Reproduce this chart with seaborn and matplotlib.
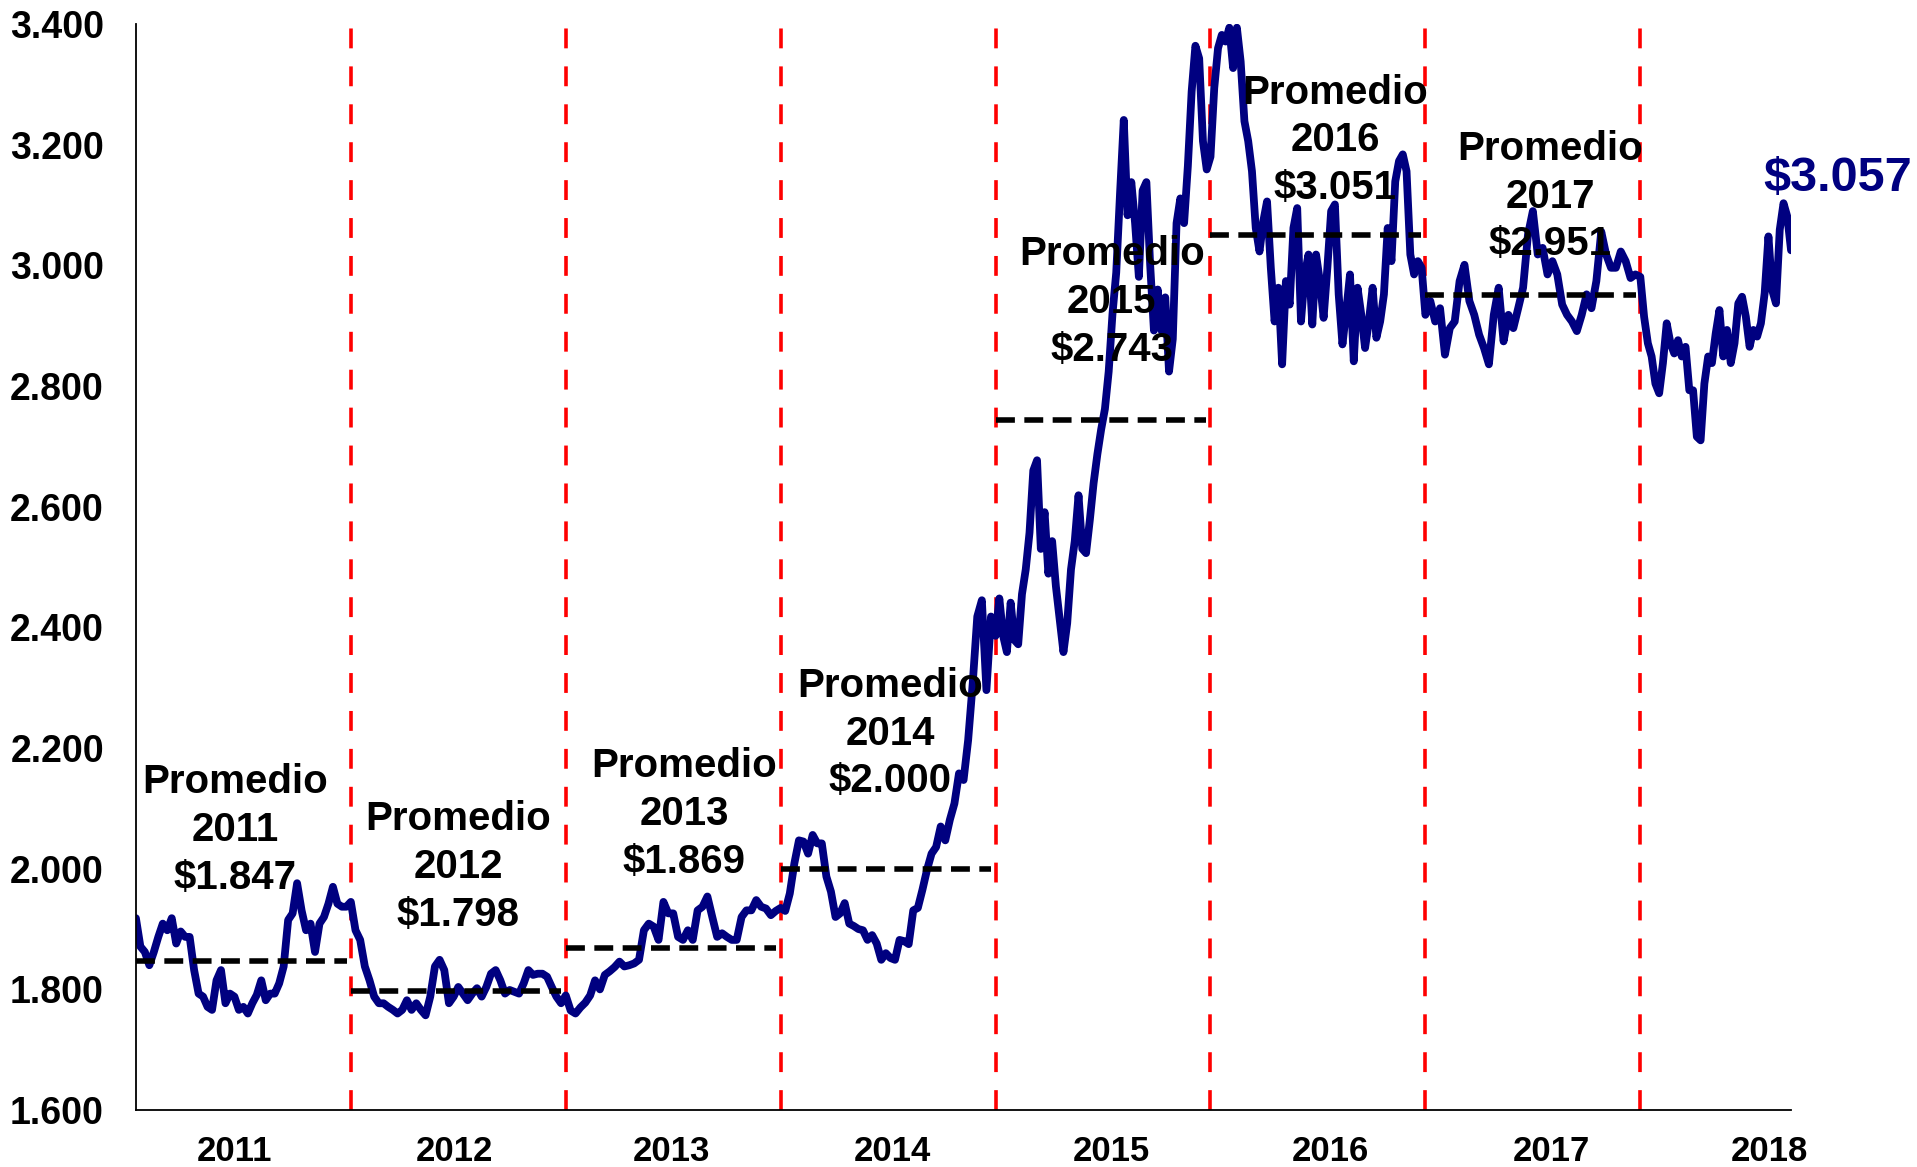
import numpy as np
import pandas as pd
import matplotlib
matplotlib.use("Agg")
import matplotlib.pyplot as plt
import seaborn as sns

# Tasa de cambio COP/USD, lecturas aproximadas del grafico (cada ~semana)
years = [2011, 2012, 2013, 2014, 2015, 2016, 2017, 2018]
trm_2011 = [1918, 1871, 1862, 1840, 1862, 1887, 1909, 1898, 1918, 1876, 1896, 1887, 1887, 1832, 1793, 1788,
            1771, 1766, 1815, 1832, 1777, 1793, 1788, 1766, 1771, 1760, 1777, 1791, 1815, 1782, 1793, 1793,
            1810, 1838, 1915, 1926, 1976, 1931, 1898, 1909, 1862, 1909, 1920, 1942, 1970, 1942, 1937, 1937]
trm_2012 = [1945, 1898, 1882, 1838, 1815, 1788, 1777, 1777, 1771, 1766, 1760, 1766, 1782, 1766, 1777, 1766,
            1757, 1788, 1838, 1849, 1832, 1777, 1788, 1804, 1793, 1782, 1793, 1802, 1788, 1804, 1826, 1832,
            1815, 1793, 1799, 1796, 1793, 1810, 1832, 1824, 1826, 1826, 1821, 1804, 1788, 1777]
trm_2013 = [1790, 1765, 1760, 1770, 1778, 1790, 1815, 1800, 1824, 1830, 1837, 1846, 1838, 1840, 1843, 1849,
            1898, 1909, 1904, 1882, 1945, 1926, 1926, 1887, 1882, 1898, 1882, 1931, 1937, 1954, 1920, 1887,
            1893, 1887, 1882, 1882, 1920, 1931, 1931, 1948, 1937, 1934, 1923, 1930]
trm_2014 = [1935, 1930, 1959, 2009, 2047, 2045, 2025, 2056, 2042, 2042, 1987, 1962, 1920, 1926, 1943, 1909,
            1905, 1900, 1898, 1882, 1890, 1876, 1849, 1860, 1852, 1849, 1882, 1880, 1875, 1931, 1935, 1965,
            1998, 2025, 2036, 2070, 2047, 2081, 2108, 2158, 2147, 2213, 2307, 2418, 2445, 2296, 2418]
trm_2015 = [2386, 2448, 2386, 2359, 2441, 2379, 2372, 2455, 2496, 2557, 2660, 2677, 2530, 2591, 2489, 2543,
            2468, 2414, 2359, 2407, 2496, 2543, 2619, 2530, 2523, 2578, 2639, 2687, 2728, 2762, 2824, 2919,
            2988, 3118, 3241, 3083, 3138, 3070, 2981, 3124, 3138, 3001, 2892, 2960, 2892, 2947, 2824, 2878,
            3070, 3111, 3070, 3165, 3288, 3364, 3343, 3206, 3159]
trm_2016 = [3180, 3294, 3360, 3382, 3371, 3394, 3327, 3394, 3338, 3239, 3206, 3156, 3062, 3023, 3073, 3106,
            2996, 2907, 2963, 2836, 2974, 2935, 3062, 3095, 2907, 2985, 3018, 2902, 3018, 2974, 2913, 2996,
            3090, 3101, 2952, 2869, 2924, 2985, 2841, 2963, 2918, 2863, 2907, 2963, 2880, 2907, 2952, 3062,
            3007, 3139, 3173, 3184, 3156, 3018, 2985, 3007, 2996]
trm_2017 = [2918, 2941, 2907, 2929, 2852, 2896, 2907, 2974, 3001, 2941, 2918, 2885, 2863, 2836, 2918, 2963,
            2874, 2918, 2896, 2929, 2963, 3051, 3090, 3018, 3029, 2985, 3007, 2985, 2935, 2918, 2907, 2891,
            2918, 2952, 2929, 2974, 3056, 3018, 2996, 2996, 3023, 3007, 2979, 2985]
trm_2018 = [2981, 2915, 2871, 2849, 2804, 2788, 2838, 2904, 2871, 2854, 2876, 2849, 2865, 2793, 2793, 2716,
            2710, 2804, 2849, 2838, 2887, 2926, 2849, 2893, 2838, 2871, 2937, 2948, 2915, 2865, 2893, 2882,
            2904, 2954, 3048, 2959, 2937, 3059, 3103, 3081, 3025]
series = [trm_2011, trm_2012, trm_2013, trm_2014, trm_2015, trm_2016, trm_2017, trm_2018]
last_date = "2018-09-14"

avg_years = [2011, 2012, 2013, 2014, 2015, 2016, 2017]
averages = [1847, 1798, 1869, 2000, 2743, 3051, 2951]
last_value = 3057

# posiciones de las etiquetas "Promedio" (centro del bloque)
label_x = [2011.46, 2012.50, 2013.55, 2014.51, 2015.54, 2016.58, 2017.58]
label_y = [2064, 2003, 2091, 2224, 2939, 3207, 3114]
tick_x = [2011.46, 2012.48, 2013.49, 2014.52, 2015.54, 2016.56, 2017.585, 2018.60]

def fmt(v):
    return f"{v/1000:.3f}"

# fechas como fraccion de anio
end_frac = (pd.Timestamp(last_date).dayofyear - 1) / 365
xs = []
for yr, vals in zip(years, series):
    if yr == years[-1]:
        xs.append(yr + np.linspace(0, end_frac, len(vals)))
    else:
        xs.append(yr + np.arange(len(vals)) / len(vals))
df = pd.DataFrame({"fecha": np.concatenate(xs), "trm": np.concatenate(series)})

sns.set_style("white")
plt.rcParams["font.family"] = ["Liberation Sans", "DejaVu Sans"]
plt.rcParams["font.weight"] = "bold"
plt.rcParams["text.color"] = "black"
plt.rcParams["xtick.color"] = "black"
plt.rcParams["ytick.color"] = "black"

fig = plt.figure(figsize=(19.17, 11.67), dpi=100)
ax = fig.add_axes([0.0709, 0.0488, 0.8634, 0.9306])

for yr in years[1:]:
    ax.axvline(yr, color="#FF0000", lw=2.6, dashes=(5.5, 5), zorder=1)

sns.lineplot(data=df, x="fecha", y="trm", color="#000080", linewidth=5.6, ax=ax, zorder=2,
             solid_joinstyle="round", solid_capstyle="round")

for yr, avg in zip(avg_years, averages):
    ax.plot([yr, yr + 0.98], [avg, avg], color="black", lw=4, dashes=(3.4, 1.7), zorder=3)

for yr, avg, lx, ly in zip(avg_years, averages, label_x, label_y):
    ax.text(lx, ly, f"Promedio\n{yr}\n${fmt(avg)}", ha="center", va="center",
            fontsize=29, fontweight="bold", linespacing=1.33, color="black", zorder=4)

ax.text(2018.92, 3144, f"${fmt(last_value)}", ha="center", va="center", fontsize=35,
        fontweight="bold", color="#000080", clip_on=False)

ax.set_xlim(2011, 2018 + end_frac)
ax.set_ylim(1600, 3400)
ax.set_yticks(np.arange(1600, 3401, 200))
ax.set_yticklabels([fmt(v) for v in np.arange(1600, 3401, 200)])
ax.set_xticks(tick_x)
ax.set_xticklabels([str(y) for y in years])
ax.tick_params(axis="y", length=0, pad=23, labelsize=27, labelcolor="black")
ax.tick_params(axis="x", length=0, pad=18, labelsize=25, labelcolor="black")
for lab in ax.get_xticklabels() + ax.get_yticklabels():
    lab.set_fontweight("bold")
ax.set_xlabel("")
ax.set_ylabel("")
sns.despine(ax=ax)
for s in ["left", "bottom"]:
    ax.spines[s].set_color("black")
    ax.spines[s].set_linewidth(1.3)

fig.savefig("out.png", dpi=100)
